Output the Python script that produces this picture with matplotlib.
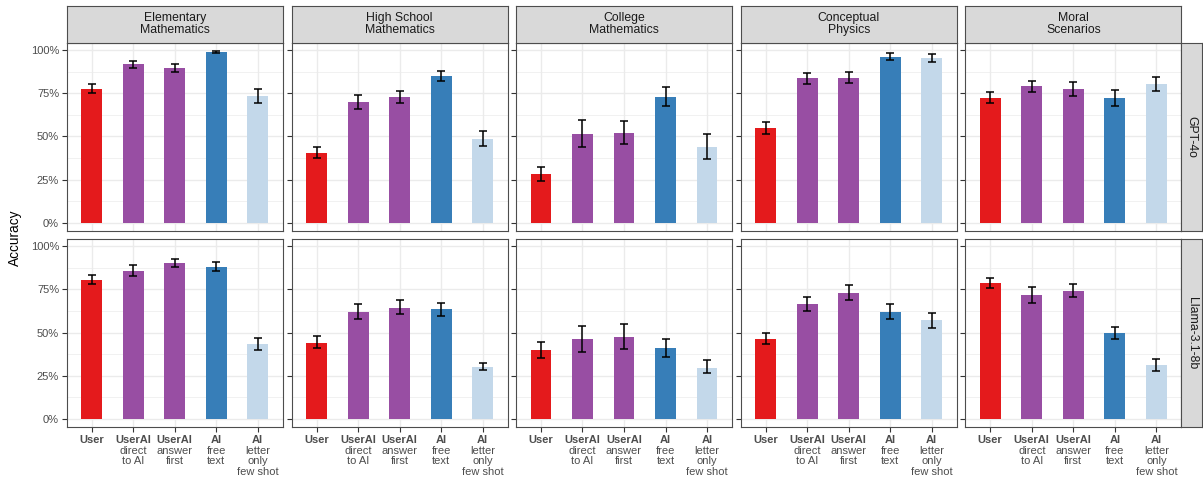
import matplotlib.pyplot as plt
import matplotlib.transforms as mtransforms
from matplotlib.ticker import FuncFormatter

plt.rcParams['font.family'] = ['Liberation Sans', 'DejaVu Sans']

# data (fractions)
subjects = ['Elementary\nMathematics', 'High School\nMathematics', 'College\nMathematics',
            'Conceptual\nPhysics', 'Moral\nScenarios']
models = ['GPT-4o', 'Llama-3.1-8b']
cond_bold = ['User', 'UserAI', 'UserAI', 'AI', 'AI']
cond_rest = [[], ['direct', 'to AI'], ['answer', 'first'], ['free', 'text'],
             ['letter', 'only', 'few shot']]
colors = ['#E41A1C', '#984EA3', '#984EA3', '#377EB8', '#C3D8EA']

# accuracy[model][subject] -> 5 conditions
acc_gpt = [
    [0.776, 0.917, 0.894, 0.987, 0.734],
    [0.405, 0.697, 0.730, 0.849, 0.486],
    [0.280, 0.515, 0.521, 0.730, 0.438],
    [0.548, 0.836, 0.840, 0.961, 0.954],
    [0.724, 0.790, 0.774, 0.722, 0.803],
]
lo_gpt = [
    [0.749, 0.894, 0.873, 0.981, 0.691],
    [0.375, 0.660, 0.695, 0.822, 0.444],
    [0.241, 0.438, 0.456, 0.674, 0.367],
    [0.514, 0.803, 0.807, 0.942, 0.932],
    [0.693, 0.755, 0.734, 0.674, 0.761],
]
hi_gpt = [
    [0.803, 0.938, 0.917, 0.992, 0.776],
    [0.438, 0.737, 0.764, 0.880, 0.533],
    [0.322, 0.597, 0.589, 0.788, 0.512],
    [0.581, 0.869, 0.871, 0.981, 0.977],
    [0.755, 0.821, 0.815, 0.768, 0.844],
]
acc_llama = [
    [0.806, 0.857, 0.903, 0.880, 0.434],
    [0.442, 0.622, 0.643, 0.634, 0.302],
    [0.399, 0.465, 0.477, 0.413, 0.298],
    [0.465, 0.665, 0.731, 0.622, 0.572],
    [0.787, 0.717, 0.740, 0.498, 0.310],
]
lo_llama = [
    [0.779, 0.828, 0.880, 0.855, 0.401],
    [0.413, 0.581, 0.605, 0.599, 0.283],
    [0.355, 0.388, 0.403, 0.360, 0.264],
    [0.432, 0.626, 0.690, 0.576, 0.529],
    [0.758, 0.672, 0.705, 0.465, 0.277],
]
hi_llama = [
    [0.835, 0.890, 0.928, 0.907, 0.469],
    [0.479, 0.667, 0.686, 0.674, 0.322],
    [0.444, 0.539, 0.552, 0.465, 0.339],
    [0.498, 0.707, 0.775, 0.667, 0.614],
    [0.816, 0.762, 0.779, 0.533, 0.345],
]
acc = [acc_gpt, acc_llama]
lo = [lo_gpt, lo_llama]
hi = [hi_gpt, hi_llama]

W, H = 1203, 479
fig = plt.figure(figsize=(W / 100, H / 100), dpi=100)

panel_left = [66.7, 291.7, 516.0, 740.7, 965.3]
panel_w = 216.0
panel_top = [43.0, 239.3]
panel_h = 188.0
strip_top, strip_h = 5.7, 37.0
rstrip_w = 21.0

border = '#4D4D4D'
txt_grey = '#4D4D4D'

def fig_rect(x, y, w, h):
    return [x / W, 1 - (y + h) / H, w / W, h / H]

for r, model in enumerate(models):
    for c, subj in enumerate(subjects):
        ax = fig.add_axes(fig_rect(panel_left[c], panel_top[r], panel_w, panel_h))
        x = list(range(5))
        ax.bar(x, acc[r][c], width=0.5, color=colors, edgecolor='none', zorder=2)
        yerr = [[a - l for a, l in zip(acc[r][c], lo[r][c])],
                [h - a for a, h in zip(acc[r][c], hi[r][c])]]
        ax.errorbar(x, acc[r][c], yerr=yerr, fmt='none', ecolor='black',
                    elinewidth=1.1, capsize=3.2, capthick=1.1, zorder=3)
        ax.set_xlim(-0.6, 4.6)
        ax.set_ylim(-0.048, 1.04)
        ax.set_yticks([0, 0.25, 0.5, 0.75, 1.0])
        ax.set_yticks([0.125, 0.375, 0.625, 0.875], minor=True)
        ax.set_xticks(x)
        ax.grid(True, which='major', color='#EBEBEB', linewidth=1.0, zorder=0)
        ax.grid(True, which='minor', axis='y', color='#EBEBEB', linewidth=0.5, zorder=0)
        ax.set_axisbelow(True)
        for s in ax.spines.values():
            s.set_color(border)
            s.set_linewidth(0.8)
        ax.tick_params(which='major', length=3.5, color='#333333', width=0.8)
        ax.tick_params(which='minor', length=0)
        if c == 0:
            ax.yaxis.set_major_formatter(FuncFormatter(lambda v, p: f'{v * 100:.0f}%'))
            ax.tick_params(axis='y', labelsize=8, labelcolor=txt_grey, pad=2)
        else:
            ax.tick_params(axis='y', labelleft=False)
        ax.set_xticklabels([])
        if r == 0:
            ax.tick_params(axis='x', length=0)
        else:
            trans = mtransforms.blended_transform_factory(ax.transData, ax.transAxes)
            for i in x:
                ax.annotate(cond_bold[i], xy=(i, 0), xycoords=trans, xytext=(0, -11.6),
                            textcoords='offset points', ha='center', va='baseline',
                            fontsize=8, fontweight='bold', color=txt_grey)
                for k, line in enumerate(cond_rest[i]):
                    ax.annotate(line, xy=(i, 0), xycoords=trans,
                                xytext=(0, -19.2 - 7.4 * k),
                                textcoords='offset points', ha='center', va='baseline',
                                fontsize=8, color=txt_grey)

        # top strips
        if r == 0:
            sax = fig.add_axes(fig_rect(panel_left[c], strip_top, panel_w, strip_h))
            sax.set_xticks([])
            sax.set_yticks([])
            sax.set_facecolor('#D9D9D9')
            for s in sax.spines.values():
                s.set_color(border)
                s.set_linewidth(0.8)
            sax.text(0.5, 0.5, subj, ha='center', va='center', fontsize=8.8,
                     color='#1A1A1A', linespacing=1.0, transform=sax.transAxes)

    # right strip
    rax = fig.add_axes(fig_rect(panel_left[4] + panel_w, panel_top[r], rstrip_w, panel_h))
    rax.set_xticks([])
    rax.set_yticks([])
    rax.set_facecolor('#D9D9D9')
    for s in rax.spines.values():
        s.set_color(border)
        s.set_linewidth(0.8)
    rax.text(0.5, 0.5, model, ha='center', va='center', rotation=-90, fontsize=8.8,
             color='#1A1A1A', transform=rax.transAxes)

fig.text(15 / W, 1 - 238 / H, 'Accuracy', rotation=90, ha='center', va='center',
         fontsize=9.8, color='black')

fig.savefig('out.png', dpi=100)
